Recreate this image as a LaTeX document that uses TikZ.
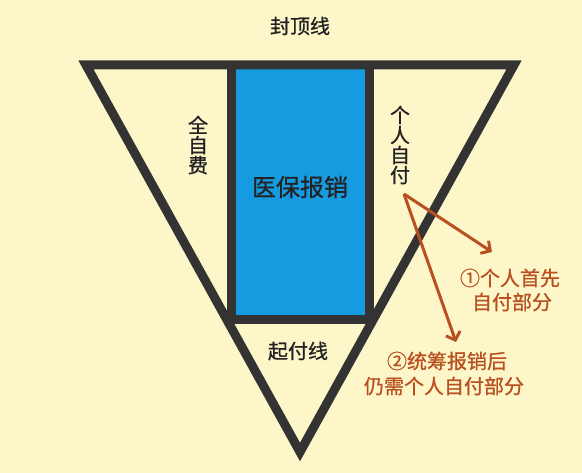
\documentclass[tikz,border=0pt]{standalone}
\usepackage{fontspec}
\newfontfamily\cjk[FakeBold=0.8]{Noto Sans CJK SC}
\usetikzlibrary{arrows.meta}
\definecolor{bg}{RGB}{253,246,201}
\definecolor{edge}{RGB}{51,51,51}
\definecolor{med}{RGB}{22,155,225}
\definecolor{rust}{RGB}{184,80,32}
\definecolor{ink}{RGB}{34,34,34}
\begin{document}
\begin{tikzpicture}[x=1pt,y=-1pt,
  lbl/.style={font=\cjk\fontsize{20}{20}\selectfont, text=ink, inner sep=0pt},
  vlbl/.style={lbl, align=center},
  big/.style={font=\cjk\fontsize{24}{24}\selectfont, text=ink, inner sep=0pt},
  note/.style={font=\cjk\fontsize{20}{20}\selectfont, text=rust, inner sep=0pt},
  edgeline/.style={draw=edge, line width=9pt, line join=miter},
  rustarrow/.style={draw=rust, line width=3pt, -{Straight Barb[length=7pt,width=15pt]}}]
\fill[bg] (0,0) rectangle (582,473);
\useasboundingbox (0,0) rectangle (582,473);
\coordinate (tl) at (86,65);
\coordinate (tr) at (514,65);
\coordinate (ap) at (300,452);
\coordinate (rtl) at (231,65);
\coordinate (rbl) at (227,320);
\coordinate (rbr) at (369,320);
\coordinate (rtr) at (369,65);
\fill[med] (rtl) rectangle (rbr);
\draw[edgeline] (rtl) -- (231,320);
\draw[edgeline] (rtr) -- (rbr);
\draw[edgeline] (rbl) -- (373,320);
\draw[edgeline] (tl) -- (tr) -- (ap) -- cycle;
\node[lbl] (top) at (300,26) {封顶线};
\node[vlbl] (self) at (198,145) {全\\自\\费};
\node[big] (ins) at (300,187) {医保报销};
\node[vlbl] (own) at (400,145) {个\\人\\自\\付};
\node[lbl] (start) at (298,351) {起付线};
\node[note] (l1) at (510,278) {①个人首先};
\node[note] (l2) at (512,302) {自付部分};
\node[note] (l3) at (447,361) {②统筹报销后};
\node[note] (l4) at (444,386) {仍需个人自付部分};
\coordinate (src) at (404,194);
\coordinate (t1) at (492,252);
\coordinate (t2) at (456,342);
\draw[rustarrow] (src) -- (t1);
\draw[rustarrow] (src) -- (t2);
\end{tikzpicture}
\end{document}
